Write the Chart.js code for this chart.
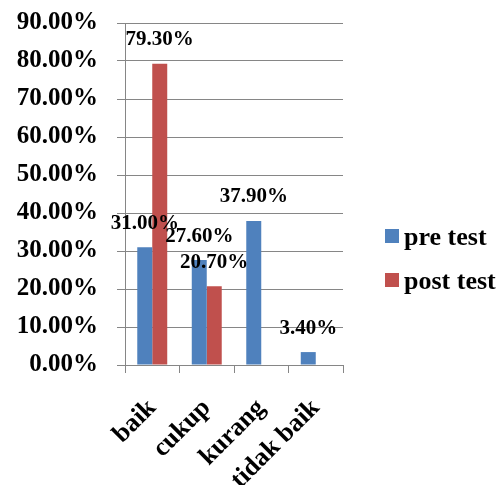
<!DOCTYPE html>
<html>
<head>
<meta charset="utf-8">
<script src="https://cdn.jsdelivr.net/npm/chart.js@4/dist/chart.umd.min.js"></script>
<style>
  html, body { margin: 0; padding: 0; background: #fff; overflow: hidden; }
  canvas { display: block; }
</style>
</head>
<body>
<canvas id="chart" width="499" height="485"></canvas>
<script>
// Survey results: share of responses per category, before and after
const categories = ['baik', 'cukup', 'kurang', 'tidak baik'];
const seriesNames = ['pre test', 'post test'];
const preTest = [0.31, 0.276, 0.379, 0.034];
const postTest = [0.793, 0.207, null, null];
const yTickValues = [0, 0.1, 0.2, 0.3, 0.4, 0.5, 0.6, 0.7, 0.8, 0.9];
const seriesColors = ['#4F81BD', '#C0504D'];

const FAMILY = '"Liberation Serif", "Times New Roman", serif';
const GRID = '#868686';
const pct = v => (v * 100).toFixed(2) + '%';

// value labels centred above each bar
const valueLabels = {
  id: 'valueLabels',
  afterDatasetsDraw(chart) {
    const ctx = chart.ctx;
    ctx.save();
    ctx.font = 'bold 21px ' + FAMILY;
    ctx.fillStyle = '#000';
    ctx.textAlign = 'center';
    ctx.textBaseline = 'middle';
    chart.data.datasets.forEach((ds, i) => {
      chart.getDatasetMeta(i).data.forEach((bar, j) => {
        const v = ds.data[j];
        if (v == null) return;
        ctx.fillText(pct(v), bar.x, bar.y - 24);
      });
    });
    ctx.restore();
  }
};

// legend to the right of the plot: square swatch + series name
const sideLegend = {
  id: 'sideLegend',
  afterDraw(chart) {
    const ctx = chart.ctx;
    const area = chart.chartArea;
    const x0 = area.right + 42;
    const y0 = 236;
    ctx.save();
    ctx.font = 'bold 26px ' + FAMILY;
    ctx.textAlign = 'left';
    ctx.textBaseline = 'middle';
    chart.data.datasets.forEach((ds, i) => {
      const y = y0 + i * 44;
      ctx.fillStyle = ds.backgroundColor;
      ctx.fillRect(x0, y - 7, 14, 14);
      ctx.fillStyle = '#000';
      ctx.fillText(ds.label, x0 + 19, y + 2);
    });
    ctx.restore();
  }
};

new Chart(document.getElementById('chart'), {
  type: 'bar',
  data: {
    labels: categories,
    datasets: [
      { label: seriesNames[0], data: preTest, backgroundColor: seriesColors[0] },
      { label: seriesNames[1], data: postTest, backgroundColor: seriesColors[1] }
    ]
  },
  options: {
    responsive: false,
    animation: false,
    devicePixelRatio: 1,
    layout: { padding: { top: 23, right: 156, left: 0, bottom: 0 } },
    datasets: { bar: { barPercentage: 1, categoryPercentage: 0.55 } },
    plugins: {
      legend: { display: false },
      tooltip: { enabled: false }
    },
    scales: {
      x: {
        grid: { drawOnChartArea: false, drawTicks: true, tickLength: 8, color: GRID, offset: true },
        border: { color: GRID },
        ticks: {
          autoSkip: false,
          minRotation: 45,
          maxRotation: 45,
          padding: 20,
          color: '#000',
          font: { family: FAMILY, size: 26, weight: 'bold' }
        },
        afterFit(scale) { scale.height = 120; scale.paddingLeft = 0; scale.paddingRight = 0; }
      },
      y: {
        min: 0,
        max: 0.9,
        afterBuildTicks(scale) { scale.ticks = yTickValues.map(v => ({ value: v })); },
        grid: { color: GRID, tickLength: 8 },
        border: { color: GRID },
        ticks: {
          padding: 19,
          minRotation: 0,
          maxRotation: 0,
          color: '#000',
          font: { family: FAMILY, size: 25, weight: 'bold' },
          callback: v => pct(v)
        },
        afterFit(scale) { scale.width = 125; scale.paddingTop = 0; scale.paddingBottom = 0; }
      }
    }
  },
  plugins: [valueLabels, sideLegend]
});
</script>
</body>
</html>
